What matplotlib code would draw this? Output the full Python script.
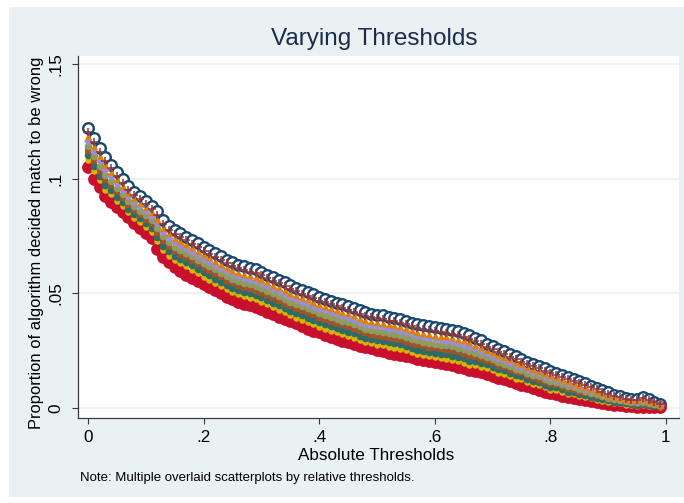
import numpy as np
import matplotlib
matplotlib.use("Agg")
import matplotlib.pyplot as plt
from matplotlib.patches import Rectangle

plt.rcParams['font.family'] = ['Liberation Sans', 'DejaVu Sans']

# Absolute thresholds (x) shared by every relative-threshold series
abs_thresholds = np.round(np.arange(100) * 0.01, 2)

# Share of matches the algorithm decided that turned out wrong, one series per relative threshold
rel_1 = [.1223, .1178, .1135, .1095, .1062, .1031, .0998, .0968, .0945, .0925,
         .0904, .0884, .0858, .0820, .0795, .0776, .0762, .0748, .0734, .0719,
         .0703, .0690, .0676, .0662, .0648, .0636, .0626, .0618, .0611, .0605,
         .0595, .0582, .0571, .0560, .0548, .0536, .0525, .0515, .0506, .0497,
         .0485, .0477, .0468, .0460, .0453, .0445, .0437, .0427, .0418, .0412,
         .0407, .0404, .0398, .0394, .0389, .0382, .0373, .0366, .0361, .0356,
         .0352, .0348, .0345, .0340, .0335, .0328, .0318, .0306, .0295, .0281,
         .0270, .0259, .0248, .0236, .0225, .0214, .0203, .0193, .0183, .0173,
         .0163, .0154, .0145, .0136, .0127, .0119, .0108, .0098, .0088, .0078,
         .0068, .0058, .0051, .0045, .0041, .0040, .0046, .0038, .0028, .0018]

rel_2 = [.1206, .1161, .1118, .1078, .1046, .1015, .0984, .0954, .0931, .0911,
         .0890, .0870, .0842, .0804, .0779, .0760, .0746, .0732, .0718, .0703,
         .0687, .0674, .0660, .0646, .0632, .0620, .0610, .0602, .0595, .0589,
         .0579, .0566, .0555, .0544, .0532, .0520, .0509, .0499, .0490, .0481,
         .0469, .0461, .0452, .0444, .0437, .0429, .0421, .0411, .0402, .0396,
         .0391, .0388, .0382, .0378, .0373, .0366, .0357, .0350, .0345, .0340,
         .0336, .0332, .0329, .0324, .0319, .0312, .0302, .0292, .0281, .0268,
         .0257, .0246, .0236, .0224, .0213, .0203, .0192, .0182, .0173, .0163,
         .0153, .0145, .0136, .0127, .0119, .0111, .0101, .0091, .0082, .0072,
         .0063, .0054, .0047, .0041, .0037, .0036, .0042, .0034, .0025, .0016]

rel_3 = [.1189, .1144, .1101, .1061, .1031, .1000, .0970, .0940, .0917, .0897,
         .0876, .0856, .0826, .0788, .0763, .0744, .0730, .0716, .0702, .0687,
         .0671, .0658, .0644, .0630, .0616, .0604, .0594, .0586, .0579, .0573,
         .0563, .0550, .0539, .0528, .0516, .0504, .0493, .0483, .0474, .0465,
         .0453, .0445, .0436, .0428, .0421, .0413, .0405, .0395, .0386, .0380,
         .0375, .0372, .0366, .0362, .0357, .0350, .0341, .0334, .0329, .0324,
         .0320, .0316, .0313, .0308, .0303, .0296, .0286, .0277, .0267, .0255,
         .0244, .0233, .0224, .0212, .0201, .0192, .0181, .0171, .0163, .0153,
         .0143, .0136, .0127, .0118, .0110, .0102, .0093, .0084, .0076, .0067,
         .0058, .0049, .0044, .0038, .0034, .0033, .0038, .0031, .0023, .0015]

rel_4 = [.1168, .1123, .1080, .1040, .1012, .0981, .0954, .0924, .0901, .0881,
         .0860, .0840, .0807, .0769, .0744, .0725, .0711, .0697, .0683, .0668,
         .0652, .0639, .0625, .0611, .0597, .0585, .0575, .0567, .0560, .0554,
         .0544, .0531, .0520, .0509, .0497, .0485, .0474, .0464, .0455, .0446,
         .0434, .0426, .0417, .0409, .0402, .0394, .0386, .0376, .0367, .0361,
         .0356, .0353, .0347, .0343, .0338, .0331, .0322, .0315, .0310, .0305,
         .0301, .0297, .0294, .0289, .0284, .0277, .0267, .0260, .0251, .0240,
         .0229, .0218, .0210, .0198, .0187, .0179, .0168, .0158, .0151, .0141,
         .0131, .0125, .0116, .0107, .0100, .0092, .0084, .0076, .0068, .0060,
         .0052, .0044, .0039, .0033, .0029, .0028, .0033, .0027, .0020, .0013]

rel_5 = [.1146, .1101, .1058, .1018, .0992, .0961, .0935, .0905, .0882, .0862,
         .0841, .0821, .0787, .0749, .0724, .0705, .0691, .0677, .0663, .0648,
         .0632, .0619, .0605, .0591, .0577, .0565, .0555, .0547, .0540, .0534,
         .0524, .0511, .0500, .0489, .0477, .0465, .0454, .0444, .0435, .0426,
         .0414, .0406, .0397, .0389, .0382, .0374, .0366, .0356, .0347, .0341,
         .0336, .0333, .0327, .0323, .0318, .0311, .0302, .0295, .0290, .0285,
         .0281, .0277, .0274, .0269, .0264, .0257, .0247, .0241, .0232, .0223,
         .0212, .0201, .0194, .0182, .0171, .0165, .0154, .0144, .0138, .0128,
         .0118, .0113, .0104, .0095, .0090, .0082, .0075, .0067, .0060, .0053,
         .0045, .0039, .0035, .0029, .0025, .0024, .0027, .0022, .0017, .0011]

rel_6 = [.1123, .1078, .1035, .0995, .0972, .0941, .0917, .0887, .0864, .0844,
         .0823, .0803, .0766, .0728, .0703, .0684, .0670, .0656, .0642, .0627,
         .0611, .0598, .0584, .0570, .0556, .0544, .0534, .0526, .0519, .0513,
         .0503, .0490, .0479, .0468, .0456, .0444, .0433, .0423, .0414, .0405,
         .0393, .0385, .0376, .0368, .0361, .0353, .0345, .0335, .0326, .0320,
         .0315, .0312, .0306, .0302, .0297, .0290, .0281, .0274, .0269, .0264,
         .0260, .0256, .0253, .0248, .0243, .0236, .0226, .0222, .0214, .0206,
         .0195, .0184, .0179, .0167, .0156, .0151, .0140, .0130, .0124, .0114,
         .0104, .0101, .0092, .0083, .0079, .0071, .0065, .0059, .0052, .0046,
         .0039, .0033, .0030, .0024, .0020, .0019, .0022, .0018, .0013, .0009]

rel_7 = [.1103, .1058, .1015, .0975, .0953, .0922, .0901, .0871, .0848, .0828,
         .0807, .0787, .0747, .0709, .0684, .0665, .0651, .0637, .0623, .0608,
         .0592, .0579, .0565, .0551, .0537, .0525, .0515, .0507, .0500, .0494,
         .0484, .0471, .0460, .0449, .0437, .0425, .0414, .0404, .0395, .0386,
         .0374, .0366, .0357, .0349, .0342, .0334, .0326, .0316, .0307, .0301,
         .0296, .0293, .0287, .0283, .0278, .0271, .0262, .0255, .0250, .0245,
         .0241, .0237, .0234, .0229, .0224, .0217, .0207, .0205, .0198, .0191,
         .0180, .0169, .0165, .0153, .0142, .0138, .0127, .0117, .0112, .0102,
         .0092, .0090, .0081, .0072, .0069, .0061, .0056, .0050, .0045, .0039,
         .0033, .0028, .0026, .0020, .0016, .0015, .0017, .0013, .0010, .0007]

rel_8 = [.1082, .1037, .0994, .0954, .0934, .0903, .0884, .0854, .0831, .0811,
         .0790, .0770, .0728, .0690, .0665, .0646, .0632, .0618, .0604, .0589,
         .0573, .0560, .0546, .0532, .0518, .0506, .0496, .0488, .0481, .0475,
         .0465, .0452, .0441, .0430, .0418, .0406, .0395, .0385, .0376, .0367,
         .0355, .0347, .0338, .0330, .0323, .0315, .0307, .0297, .0288, .0282,
         .0277, .0274, .0268, .0264, .0259, .0252, .0243, .0236, .0231, .0226,
         .0222, .0218, .0215, .0210, .0205, .0198, .0188, .0188, .0181, .0175,
         .0164, .0153, .0150, .0138, .0127, .0125, .0114, .0104, .0100, .0090,
         .0080, .0079, .0070, .0061, .0059, .0051, .0047, .0042, .0037, .0032,
         .0027, .0023, .0021, .0015, .0011, .0010, .0012, .0009, .0007, .0006]

rel_9 = [.1052, .1002, .0963, .0926, .0901, .0879, .0857, .0833, .0808, .0786,
         .0764, .0742, .0695, .0660, .0637, .0616, .0597, .0582, .0569, .0556,
         .0543, .0529, .0515, .0500, .0486, .0475, .0465, .0456, .0449, .0440,
         .0431, .0420, .0409, .0399, .0390, .0380, .0369, .0357, .0346, .0337,
         .0330, .0320, .0310, .0301, .0294, .0287, .0279, .0272, .0265, .0260,
         .0254, .0248, .0242, .0236, .0231, .0226, .0221, .0216, .0211, .0206,
         .0201, .0196, .0191, .0186, .0180, .0174, .0168, .0162, .0156, .0149,
         .0141, .0133, .0125, .0117, .0110, .0102, .0094, .0086, .0079, .0072,
         .0066, .0060, .0054, .0048, .0043, .0038, .0034, .0030, .0026, .0022,
         .0018, .0015, .0012, .0009, .0007, .0005, .0004, .0003, .0003, .0003]

x_ticks = [0, 0.2, 0.4, 0.6, 0.8, 1.0]
x_ticklabels = ["0", ".2", ".4", ".6", ".8", "1"]
y_ticks = [0, 0.05, 0.10, 0.15]
y_ticklabels = ["0", ".05", ".1", ".15"]

W, H = 684, 503
DPI = 100
fig = plt.figure(figsize=(W / DPI, H / DPI), dpi=DPI, facecolor="white")

def fx(px):
    return px / W

def fy(py):
    return 1 - py / H

# Graph region (light bluish-gray panel), kept behind the axes
region_color = "#E9F1F3"
fig.patches.append(Rectangle((fx(9), fy(497)), fx(684) - fx(9), fy(7) - fy(497),
                             transform=fig.transFigure, facecolor=region_color,
                             edgecolor="none", zorder=-10))

# Plot region
L, R, T, B = 78, 679, 56, 418
ax = fig.add_axes([fx(L), fy(B), fx(R) - fx(L), fy(T) - fy(B)])
ax.set_zorder(1)
ax.set_facecolor("white")
ax.set_xlim(-0.0173, 1.0225)
ax.set_ylim(-0.00437, 0.1537)

for side in ("top", "right"):
    ax.spines[side].set_visible(False)
for side in ("left", "bottom"):
    ax.spines[side].set_color("#3a3a3a")
    ax.spines[side].set_linewidth(0.9)

ax.set_yticks(y_ticks)
ax.set_yticklabels(y_ticklabels, rotation=90, va="center", fontsize=12.3)
ax.set_xticks(x_ticks)
ax.set_xticklabels(x_ticklabels, fontsize=12.3)
ax.tick_params(axis="both", direction="out", length=4.5, width=0.8, color="#3a3a3a")
ax.tick_params(axis="x", pad=4)
ax.tick_params(axis="y", pad=6)
ax.yaxis.grid(True, color=region_color, linewidth=1.3, zorder=0)
ax.set_axisbelow(True)

# Series styling: (values, color, marker, size, filled, zorder)
series = [
    (rel_1, "#1a476f", "o", 58, False, 3.0),
    (rel_9, "#c8102e", "o", 85, True, 3.1),
    (rel_8, "#d9b400", "o", 22, True, 3.2),
    (rel_7, "#2d6d66", "o", 30, True, 3.3),
    (rel_6, "#a0522d", "s", 22, True, 3.4),
    (rel_5, "#8f9d5c", "o", 30, True, 3.5),
    (rel_4, "#9a8fcf", "D", 20, True, 3.6),
    (rel_3, "#e37e00", "^", 26, True, 3.7),
    (rel_2, "#90353b", "+", 40, True, 3.8),
]

for vals, color, marker, size, filled, z in series:
    if marker == "+":
        ax.scatter(abs_thresholds, vals, s=size, marker=marker, color=color,
                   linewidths=1.1, zorder=z)
    elif filled:
        ax.scatter(abs_thresholds, vals, s=size, marker=marker, color=color,
                   linewidths=0, zorder=z)
    else:
        ax.scatter(abs_thresholds, vals, s=size, marker=marker, facecolors="white",
                   edgecolors=color, linewidths=1.7, zorder=z)

# Titles and notes
fig.text(fx(374), fy(39), "Varying Thresholds", ha="center", va="center",
         fontsize=17.5, color="#1e2b4d")
fig.text(fx(376), fy(455), "Absolute Thresholds", ha="center", va="center",
         fontsize=12.3, color="black")
fig.text(fx(37), fy(243), "Proportion of algorithm decided match to be wrong",
         ha="center", va="center", rotation=90, fontsize=11.9, color="black")
fig.text(fx(80), fy(478), "Note: Multiple overlaid scatterplots by relative thresholds.",
         ha="left", va="center", fontsize=9.5, color="black")

fig.savefig("out.png", dpi=DPI, facecolor="white")
